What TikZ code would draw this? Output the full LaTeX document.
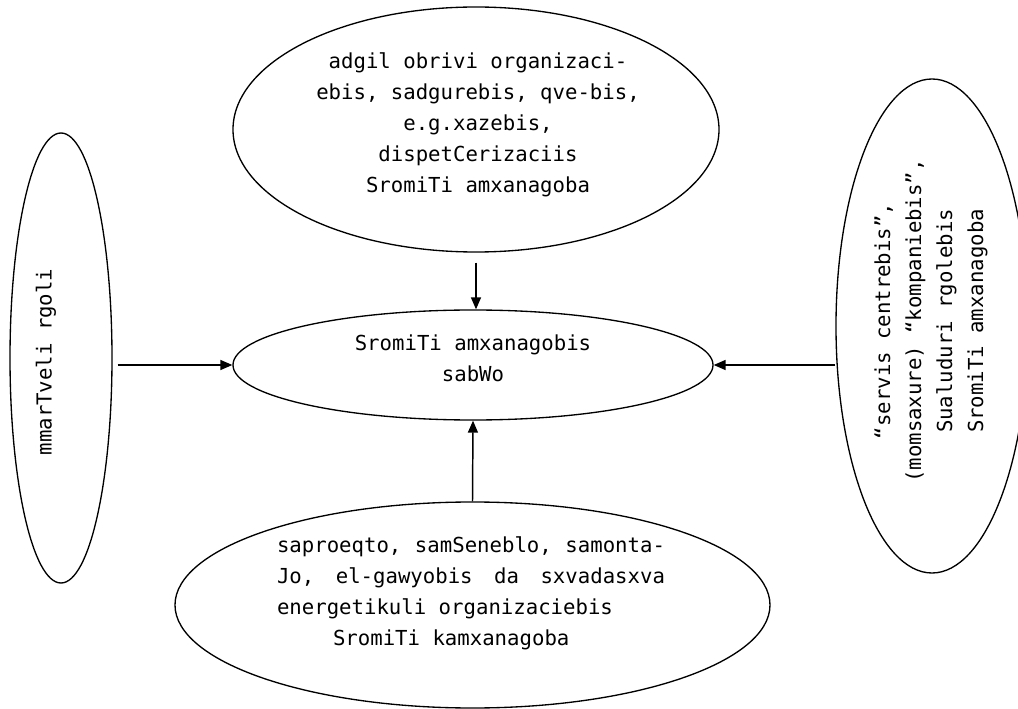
\documentclass[tikz,border=0pt]{standalone}
\usepackage{fontspec}
\newfontfamily\dmono{DejaVu Sans Mono}
\usetikzlibrary{shapes.geometric,arrows.meta}
\tikzset{
  oval/.style={draw=black, line width=1pt, ellipse, inner sep=0pt},
  lbl/.style={font=\dmono\fontsize{15.5pt}{23.25pt}\selectfont, align=center, inner sep=0pt, text=black},
  arr/.style={draw=black, line width=1.1pt, -{Triangle[length=9pt,width=7.5pt]}}
}
\begin{document}
\begin{tikzpicture}[x=0.75pt,y=-0.75pt]
\useasboundingbox (0,0) rectangle (1018,709);
% ellipses
\node[oval, minimum width=486*0.75pt, minimum height=245*0.75pt] (top) at (476,129.5) {};
\node[oval, minimum width=480*0.75pt, minimum height=110*0.75pt] (center) at (473,365) {};
\node[oval, minimum width=595*0.75pt, minimum height=206*0.75pt] (bottom) at (472.5,605) {};
\node[oval, minimum width=102*0.75pt, minimum height=450*0.75pt] (left) at (61,358) {};
\node[oval, minimum width=192*0.75pt, minimum height=494*0.75pt] (right) at (932,326) {};
% texts
\node[lbl] (toptext) at (478,125) {adgil obrivi organizaci-\\ebis, sadgurebis, qve-bis,\\e.g.xazebis,\\dispetCerizaciis\\SromiTi amxanagoba};
\node[lbl] (centertext) at (473,358) {SromiTi amxanagobis\\sabWo};
\node[lbl] (bottomtext) at (471,593) {\makebox[291pt]{saproeqto,\hfill samSeneblo,\hfill samonta-}\\
\makebox[291pt]{Jo,\hfill el-gawyobis\hfill da\hfill sxvadasxva}\\
\makebox[291pt][l]{energetikuli organizaciebis}\\
\makebox[291pt][l]{\hspace*{42pt}SromiTi kamxanagoba}};
\node[lbl, rotate=90] (lefttext) at (46,362) {mmarTveli rgoli};
\node[lbl, rotate=90] (righttext) at (931,321) {“servis centrebis”,\\(momsaxure) “kompaniebis”,\\Sualuduri rgolebis\\SromiTi amxanagoba};
% connectors
\draw[arr] ([yshift=-7.5pt]top.south) -- (top.south |- center.north);
\draw[arr] (bottom.north) -- (center.south);
\draw[arr] ([xshift=3.75pt]left.east |- center.west) -- (center.west);
\draw[arr] (right.west |- center.east) -- (center.east);
\end{tikzpicture}
\end{document}
